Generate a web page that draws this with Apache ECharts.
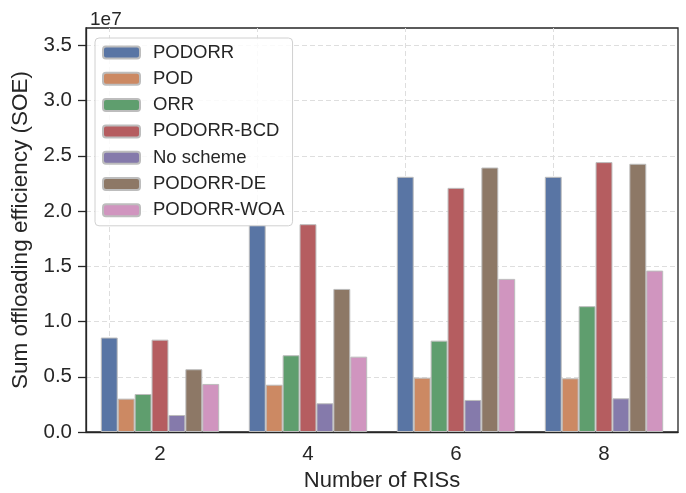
<!DOCTYPE html>
<html>
<head>
<meta charset="utf-8">
<script src="https://cdn.jsdelivr.net/npm/echarts@6/dist/echarts.min.js"></script>
<style>html,body{margin:0;padding:0;background:#fff}#c{width:686px;height:493px}</style>
</head>
<body>
<div id="c"></div>
<script>
// values in units of 1e7
var categories = ['2', '4', '6', '8'];
var seriesNames = ['PODORR', 'POD', 'ORR', 'PODORR-BCD', 'No scheme', 'PODORR-DE', 'PODORR-WOA'];
var PODORR   = [0.855, 1.875, 2.310, 2.310];
var POD      = [0.302, 0.428, 0.492, 0.486];
var ORR      = [0.344, 0.695, 0.827, 1.139];
var PODORR_BCD = [0.836, 1.881, 2.210, 2.443];
var NoScheme = [0.154, 0.260, 0.290, 0.305];
var PODORR_DE  = [0.568, 1.295, 2.394, 2.428];
var PODORR_WOA = [0.435, 0.682, 1.386, 1.461];
var yTicks = [0, 0.5, 1.0, 1.5, 2.0, 2.5, 3.0, 3.5];
var colors = ['#5975a4', '#cc8963', '#5f9e6e', '#b55d60', '#857aab', '#8d7866', '#d095bf'];

var allData = [PODORR, POD, ORR, PODORR_BCD, NoScheme, PODORR_DE, PODORR_WOA];
var font = "'Liberation Sans', Arial, sans-serif";
var dark = '#262626';

var series = allData.map(function (d, i) {
  var s = {
    name: seriesNames[i],
    type: 'bar',
    data: d,
    barGap: '0%',
    barCategoryGap: '20%',
    itemStyle: { color: colors[i], borderColor: '#bdbdbd', borderWidth: 1 },
    z: 2
  };
  if (i === 0) {
    s.markLine = {
      silent: true,
      symbol: 'none',
      z: 1,
      label: { show: false },
      lineStyle: { color: '#dedede', type: [5, 3], width: 1 },
      data: categories.map(function (c) { return { xAxis: c }; })
    };
  }
  return s;
});

var chart = echarts.init(document.getElementById('c'));
chart.setOption({
  animation: false,
  textStyle: { fontFamily: font },
  title: {
    text: '1e7', left: 85, top: 5,
    textStyle: { fontFamily: font, fontSize: 19, fontWeight: 'normal', color: dark }
  },
  grid: {
    left: 86, right: 8, top: 28, bottom: 61,
    containLabel: false,
    outerBoundsMode: 'none',
    show: true, borderColor: dark, borderWidth: 1.3, backgroundColor: 'transparent'
  },
  legend: {
    data: seriesNames,
    orient: 'vertical',
    left: 95, top: 38,
    padding: [5, 8, 6, 7],
    itemWidth: 37, itemHeight: 12, itemGap: 7.3,
    backgroundColor: 'rgba(255,255,255,0.85)',
    borderColor: '#d0d0d0', borderWidth: 1, borderRadius: 4,
    textStyle: { fontFamily: font, fontSize: 18.5, color: dark, padding: [0, 0, 0, 8] }
  },
  xAxis: {
    type: 'category',
    data: categories,
    name: 'Number of RISs',
    nameLocation: 'middle',
    nameGap: 37,
    nameTextStyle: { fontFamily: font, fontSize: 22, color: dark },
    axisLine: { lineStyle: { color: dark, width: 1.3 } },
    axisTick: { alignWithLabel: true, length: 8, lineStyle: { color: dark, width: 1.3 } },
    axisLabel: { fontFamily: font, fontSize: 20.5, color: dark, margin: 12 },
    splitLine: { show: false }
  },
  yAxis: {
    type: 'value',
    min: 0, max: 3.657, interval: 0.5,
    name: 'Sum offloading efficiency (SOE)',
    nameLocation: 'middle',
    nameGap: 48,
    nameTextStyle: { fontFamily: font, fontSize: 22.5, color: dark },
    axisLine: { show: true, lineStyle: { color: dark, width: 1.3 } },
    axisTick: { show: true, length: 8, customValues: yTicks, lineStyle: { color: dark, width: 1.3 } },
    axisLabel: {
      fontFamily: font, fontSize: 20.5, color: dark, margin: 14,
      customValues: yTicks,
      formatter: function (v) { return v.toFixed(1); }
    },
    splitLine: { show: true, lineStyle: { color: '#dedede', type: [5, 3], width: 1 } }
  },
  series: series
});
</script>
</body>
</html>
